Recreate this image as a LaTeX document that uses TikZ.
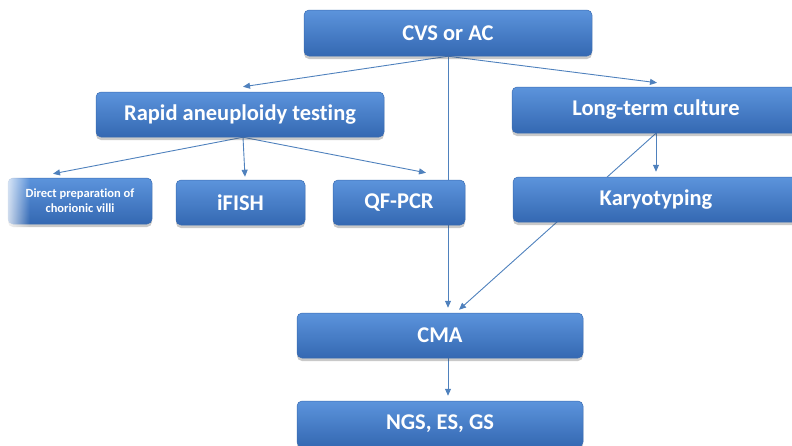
\documentclass[tikz,border=0pt]{standalone}
\usepackage{fontspec}
\setmainfont{Carlito}[RawFeature=-liga]
\usetikzlibrary{calc,shadows,backgrounds,fadings,arrows.meta}
\definecolor{linecol}{RGB}{79,129,189}
\definecolor{boxtop}{RGB}{92,148,220}
\definecolor{boxbot}{RGB}{52,104,178}
\definecolor{boxedge}{RGB}{58,108,178}
\tikzset{
  box/.style={rounded corners=5pt, top color=boxtop, bottom color=boxbot, draw=boxedge, line width=0.5pt,
    text=white, font=\bfseries\fontsize{22.5}{24}\selectfont, align=center, inner sep=0pt,
    drop shadow={shadow xshift=0pt, shadow yshift=-3pt, opacity=0.3, fill=black!70}},
  conn/.style={draw=linecol, line width=0.9pt, -{Triangle[length=7pt,width=6pt]}}
}
\begin{document}
\begin{tikzpicture}[x=1pt,y=-1pt]
\useasboundingbox (0,0) rectangle (792,445);
\clip (0,0) rectangle (792,445);
\node[box, minimum width=288pt, minimum height=46pt] (cvs) at (448,33) {CVS or AC};
\node[box, minimum width=288pt, minimum height=45pt] (rapid) at (240,114.5) {Rapid aneuploidy testing};
\node[box, minimum width=288pt, minimum height=46pt] (ltc) at (656,110) {Long-term culture};
\node[box, minimum width=144pt, minimum height=46pt, font=\bfseries\fontsize{12.5}{15}\selectfont] (direct) at (80,201) {Direct preparation of\\chorionic villi};
\fill[white, path fading=east, fill opacity=0.9] ([xshift=-4pt,yshift=2pt]direct.north west) rectangle ([xshift=22pt,yshift=-6pt]direct.south west);
\node[box, minimum width=129pt, minimum height=45pt] (ifish) at (240.5,202.5) {iFISH};
\node[box, minimum width=132pt, minimum height=45pt] (qfpcr) at (399,202.5) {QF-PCR};
\node[box, minimum width=286pt, minimum height=45pt] (karyo) at (656,199.5) {Karyotyping};
\node[box, minimum width=286pt, minimum height=45pt] (cma) at (440,335.5) {CMA};
\node[box, minimum width=286pt, minimum height=46pt] (ngs) at (440,424) {NGS, ES, GS};
\begin{scope}[on background layer]
\draw[conn] (cvs.south) -- ($(rapid.north)+(3,-5)$);
\draw[conn] (cvs.south) -- ($(ltc.north)+(1,-4)$);
\draw[conn] (cvs.south) -- ($(cma.north)+(8,-5)$);
\draw[conn] ($(rapid.south)+(3,0)$) -- ($(direct.north)+(-27,-4)$);
\draw[conn] ($(rapid.south)+(3,0)$) -- ($(ifish.north)+(4.5,-3)$);
\draw[conn] ($(rapid.south)+(3,0)$) -- ($(qfpcr.north)+(27,-7)$);
\draw[conn] (ltc.south) -- ($(karyo.north)+(0,-5)$);
\draw[conn] (ltc.south) -- ($(cma.north)+(19,-3)$);
\draw[conn] ($(cma.south)+(8,0)$) -- ($(ngs.north)+(8,-5)$);
\end{scope}
\end{tikzpicture}
\end{document}
